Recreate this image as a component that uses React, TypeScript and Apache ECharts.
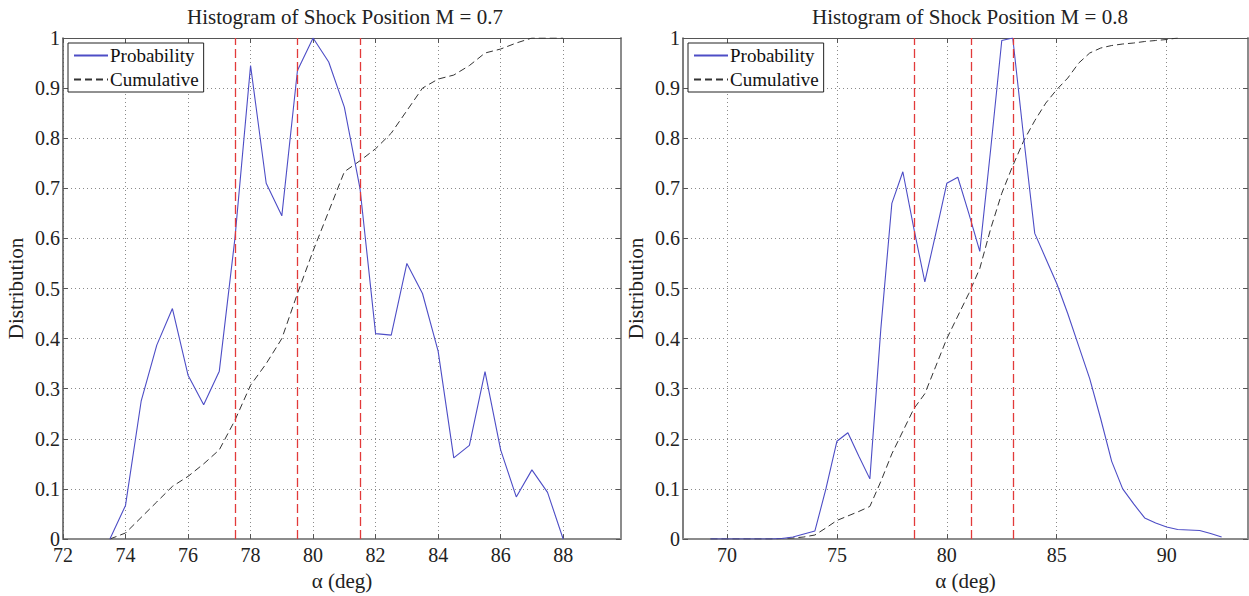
import React, { useEffect, useRef } from "react";
import * as echarts from "echarts";

// ---------- data ----------
const titleM07 = "Histogram of Shock Position M = 0.7";
const titleM08 = "Histogram of Shock Position M = 0.8";
const seriesNames = ["Probability", "Cumulative"];
const xName = "α (deg)";
const yName = "Distribution";

const alphaM07 = [73.5, 74, 74.5, 75, 75.5, 76, 76.5, 77, 77.5, 78, 78.5, 79, 79.5, 80, 80.5, 81, 81.5, 82, 82.5, 83, 83.5, 84, 84.5, 85, 85.5, 86, 86.5, 87, 87.5, 88];
const probM07 = [0, 0.067, 0.275, 0.387, 0.46, 0.327, 0.268, 0.335, 0.6, 0.945, 0.71, 0.645, 0.935, 1.0, 0.952, 0.862, 0.7, 0.41, 0.407, 0.55, 0.49, 0.375, 0.162, 0.187, 0.334, 0.178, 0.084, 0.138, 0.093, 0];
const cumM07 = [0, 0.012, 0.043, 0.074, 0.105, 0.125, 0.15, 0.178, 0.237, 0.307, 0.35, 0.4, 0.49, 0.575, 0.654, 0.733, 0.755, 0.779, 0.81, 0.855, 0.9, 0.918, 0.926, 0.945, 0.97, 0.978, 0.99, 1.0, 1.0, 1.0];
const markersM07 = [77.5, 79.5, 81.5];
const xTicksM07 = [72, 74, 76, 78, 80, 82, 84, 86, 88];
const xRangeM07 = [72, 89.85];

const alphaM08 = [69.25, 70, 70.5, 71, 71.5, 72, 72.5, 73, 73.5, 74, 74.5, 75, 75.5, 76, 76.5, 77, 77.5, 78, 78.5, 79, 79.5, 80, 80.5, 81, 81.5, 82, 82.5, 83, 83.5, 84, 84.5, 85, 85.5, 86, 86.5, 87, 87.5, 88, 88.5, 89, 89.5, 90, 90.5, 91, 91.5, 92, 92.5];
const probM08 = [0, 0, 0, 0, 0, 0, 0.001, 0.004, 0.01, 0.016, 0.1, 0.195, 0.212, 0.165, 0.12, 0.42, 0.67, 0.733, 0.62, 0.513, 0.61, 0.71, 0.722, 0.65, 0.574, 0.78, 0.995, 1.0, 0.8, 0.61, 0.56, 0.51, 0.45, 0.385, 0.32, 0.24, 0.155, 0.1, 0.07, 0.042, 0.032, 0.024, 0.019, 0.018, 0.017, 0.011, 0.004];
const cumM08 = [0, 0, 0, 0, 0, 0, 0.001, 0.002, 0.004, 0.008, 0.022, 0.037, 0.046, 0.055, 0.065, 0.115, 0.17, 0.215, 0.26, 0.29, 0.345, 0.4, 0.445, 0.49, 0.54, 0.62, 0.69, 0.745, 0.795, 0.835, 0.87, 0.897, 0.92, 0.95, 0.97, 0.98, 0.985, 0.988, 0.99, 0.993, 0.995, 0.997, 1.0, null, null, null, null];
const markersM08 = [78.5, 81.1, 83.0];
const xTicksM08 = [70, 75, 80, 85, 90];
const xRangeM08 = [68, 93.7];

const yRange = [0, 1];
const yStep = 0.1;

// ---------- styles ----------
const FONT = "Liberation Serif, Times New Roman, serif";
const BLUE = "#4d4dc6";
const DARK = "#333333";
const RED = "#e23a3a";
const GRIDC = "#8a8a8a";

function pairs(xs: number[], ys: (number | null)[]) {
  const out: number[][] = [];
  xs.forEach((x, i) => {
    if (ys[i] !== null && ys[i] !== undefined) out.push([x, ys[i] as number]);
  });
  return out;
}

function mainX(grid: number, range: number[], ticks: number[]) {
  return {
    type: "value",
    gridIndex: grid,
    min: range[0],
    max: range[1],
    position: "bottom",
    name: xName,
    nameLocation: "middle",
    nameGap: 31,
    nameTextStyle: { fontFamily: FONT, fontSize: 21, color: "#222" },
    axisLine: { show: true, onZero: false, lineStyle: { color: "#8c8c8c", width: 2 } },
    axisTick: { show: true, inside: true, length: 5, customValues: ticks, lineStyle: { color: "#555" } },
    axisLabel: { customValues: ticks, fontFamily: FONT, fontSize: 20, color: "#222", margin: 6 },
    splitLine: { show: true, lineStyle: { color: GRIDC, type: [1, 3], width: 1 } },
  };
}
function topX(grid: number, range: number[], ticks: number[]) {
  return {
    type: "value",
    gridIndex: grid,
    min: range[0],
    max: range[1],
    position: "top",
    axisLine: { show: true, onZero: false, lineStyle: { color: "#555", width: 1 } },
    axisTick: { show: true, inside: true, length: 5, customValues: ticks, lineStyle: { color: "#555" } },
    axisLabel: { show: false, customValues: ticks },
    splitLine: { show: false },
  };
}
function mainY(grid: number) {
  return {
    type: "value",
    gridIndex: grid,
    min: yRange[0],
    max: yRange[1],
    interval: yStep,
    position: "left",
    name: yName,
    nameLocation: "middle",
    nameGap: 37,
    nameTextStyle: { fontFamily: FONT, fontSize: 21, color: "#222" },
    axisLine: { show: true, onZero: false, lineStyle: { color: "#555", width: 1.5 } },
    axisTick: { show: true, inside: true, length: 5, lineStyle: { color: "#555" } },
    axisLabel: { fontFamily: FONT, fontSize: 20, color: "#222", margin: 3 },
    splitLine: { show: true, lineStyle: { color: GRIDC, type: [1, 3], width: 1 } },
  };
}
function rightY(grid: number) {
  return {
    type: "value",
    gridIndex: grid,
    min: yRange[0],
    max: yRange[1],
    interval: yStep,
    position: "right",
    axisLine: { show: true, onZero: false, lineStyle: { color: "#8c8c8c", width: 2 } },
    axisTick: { show: true, inside: true, length: 5, lineStyle: { color: "#555" } },
    axisLabel: { show: false },
    splitLine: { show: false },
  };
}

function lineSeries(name: string, xi: number, yi: number, data: number[][], dashed: boolean, markers?: number[]) {
  const s: any = {
    type: "line",
    name,
    xAxisIndex: xi,
    yAxisIndex: yi,
    data,
    symbol: "none",
    smooth: false,
    lineStyle: dashed ? { color: DARK, width: 1, type: [7, 4] } : { color: BLUE, width: 1.1 },
    itemStyle: { color: dashed ? DARK : BLUE },
    z: dashed ? 3 : 4,
  };
  if (markers) {
    s.markLine = {
      silent: true,
      symbol: "none",
      label: { show: false },
      lineStyle: { color: RED, type: [9, 4], width: 1.3 },
      data: markers.map((m) => ({ xAxis: m })),
    };
  }
  return s;
}

function legend(left: number) {
  return {
    left,
    top: 43,
    orient: "vertical",
    data: seriesNames,
    itemWidth: 34,
    itemHeight: 10,
    itemGap: 5,
    padding: [3, 5, 3, 5],
    backgroundColor: "#fff",
    borderColor: "#222",
    borderWidth: 1,
    borderRadius: 0,
    selectedMode: false,
    itemStyle: { opacity: 0 },
    textStyle: { fontFamily: FONT, fontSize: 19, color: "#111", padding: [0, 0, 0, -3] },
  };
}

export default function App() {
  const ref = useRef<HTMLDivElement>(null);
  useEffect(() => {
    if (!ref.current) return;
    const chart = echarts.init(ref.current, null, { renderer: "svg" });
    const option: any = {
      animation: false,
      backgroundColor: "#ffffff",
      textStyle: { fontFamily: FONT },
      title: [
        { text: titleM07, left: 340, top: 1, textAlign: "center", textStyle: { fontFamily: FONT, fontSize: 21, fontWeight: "normal", color: "#222" } },
        { text: titleM08, left: 965, top: 1, textAlign: "center", textStyle: { fontFamily: FONT, fontSize: 21, fontWeight: "normal", color: "#222" } },
      ],
      legend: [legend(68), legend(688)],
      grid: [
        { left: 63, top: 38, width: 558, height: 507, containLabel: false },
        { left: 683, top: 38, width: 565, height: 507, containLabel: false },
      ],
      xAxis: [
        mainX(0, xRangeM07, xTicksM07),
        topX(0, xRangeM07, xTicksM07),
        mainX(1, xRangeM08, xTicksM08),
        topX(1, xRangeM08, xTicksM08),
      ],
      yAxis: [mainY(0), rightY(0), mainY(1), rightY(1)],
      series: [
        lineSeries(seriesNames[0], 0, 0, pairs(alphaM07, probM07), false, markersM07),
        lineSeries(seriesNames[1], 0, 0, pairs(alphaM07, cumM07), true),
        lineSeries(seriesNames[0], 2, 2, pairs(alphaM08, probM08), false, markersM08),
        lineSeries(seriesNames[1], 2, 2, pairs(alphaM08, cumM08), true),
      ],
    };
    chart.setOption(option);
    return () => chart.dispose();
  }, []);
  return (
    <div
      ref={ref}
      style={{ position: "absolute", left: 0, top: 0, width: 1249, height: 596, background: "#fff" }}
    />
  );
}
